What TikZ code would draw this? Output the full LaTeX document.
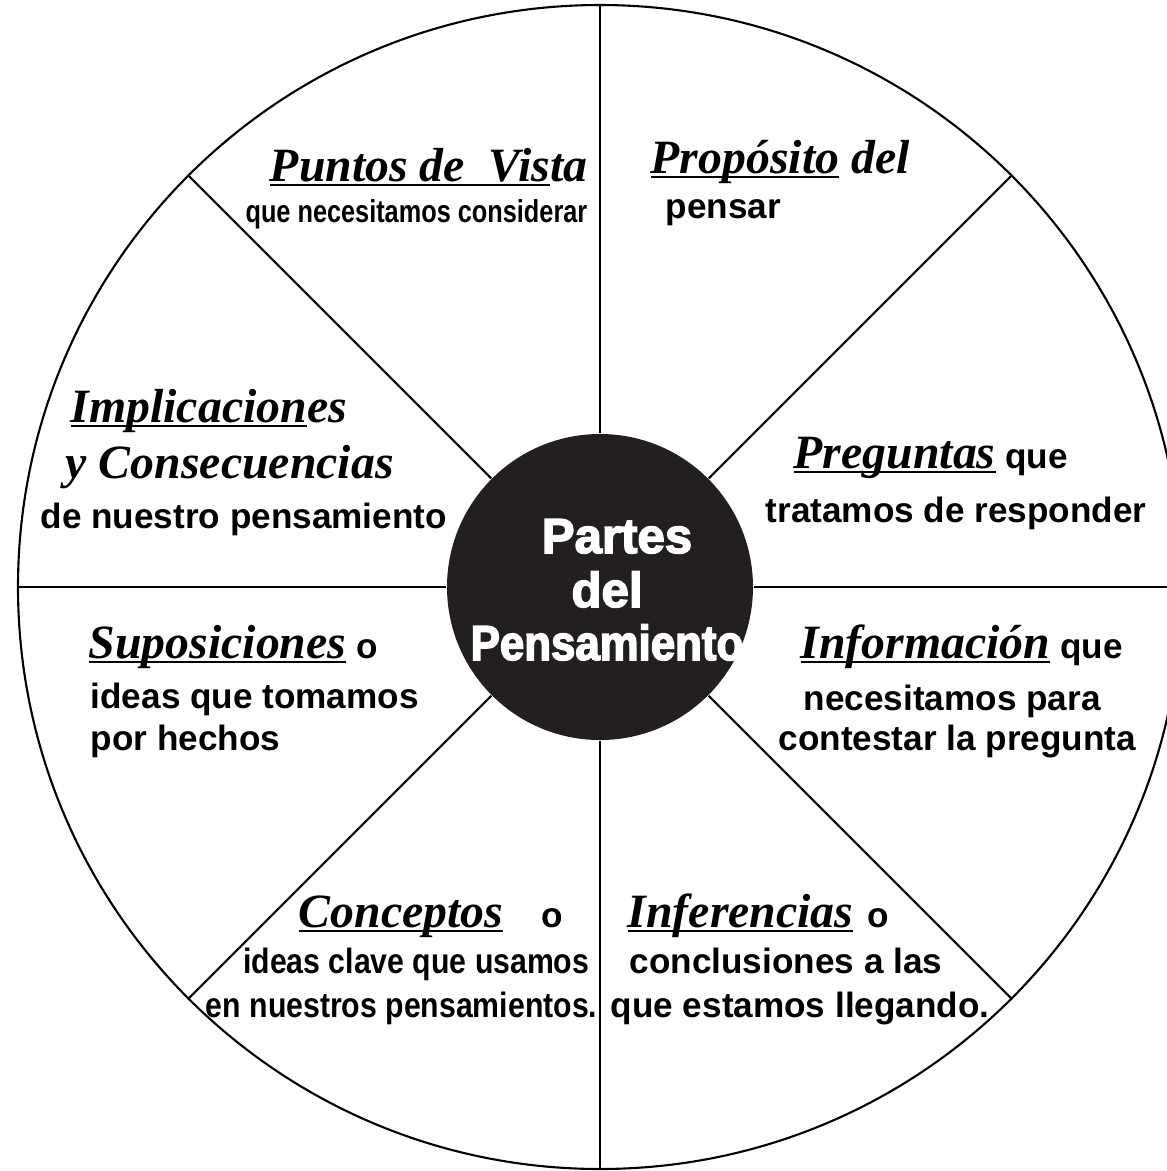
\documentclass[tikz,border=0pt]{standalone}
\usepackage{fontspec}
\setmainfont{Liberation Sans}
\newfontfamily\titlefont{Liberation Serif}
\newfontfamily\narrowfont{Liberation Sans}[FakeStretch=0.86]
\newfontfamily\tightfont{Liberation Sans}[FakeStretch=0.8]
\newfontfamily\hubfont{Liberation Sans Bold}[FakeBold=3]
\newfontfamily\hubnarrow{Liberation Sans Bold}[FakeBold=3,FakeStretch=0.89]
\definecolor{hubblack}{HTML}{231F20}
\newcommand\undr[1]{\sbox0{#1}\rlap{\rule[-1.5pt]{\wd0}{0.6pt}}\usebox0}
\newcommand\parttitle[1]{{\titlefont\bfseries\itshape\fontsize{13.6}{16}\selectfont #1}}
\begin{document}
\begin{tikzpicture}[
  rim/.style={line width=0.6pt},
  part/.style={inner sep=0pt, font=\bfseries\fontsize{10}{12}\selectfont},
  narrow/.style={inner sep=0pt, font=\narrowfont\bfseries\fontsize{10}{12}\selectfont},
  tight/.style={inner sep=0pt, font=\tightfont\bfseries\fontsize{9}{11}\selectfont},
  hubtext/.style={inner sep=0pt, text=white, font=\hubfont\fontsize{14}{16}\selectfont}
]
\useasboundingbox (0,0) rectangle (11.67,-11.71);

\node[draw, rim, circle, minimum size=11.64cm, inner sep=0pt] (outer) at (6.00,-5.87) {};
\node[circle, fill=hubblack, minimum size=3.06cm, inner sep=0pt] (hub) at (6.00,-5.87) {};
\coordinate (edge) at (11.67,-5.87);

\draw[rim] (outer.north) -- (hub.north);
\draw[rim] (hub.south) -- (outer.south);
\draw[rim] (outer.west) -- (hub.west);
\draw[rim] (hub.east) -- (edge);
\draw[rim] (hub.45) -- (outer.45);
\draw[rim] (hub.135) -- (outer.135);
\draw[rim] (hub.225) -- (outer.225);
\draw[rim] (hub.315) -- (outer.315);

\node[hubtext, anchor=base] (hubtop) at (6.17,-5.53) {Partes};
\node[hubtext, anchor=base] (hubmid) at (6.07,-6.07) {del};
\node[hubtext, anchor=base, font=\hubnarrow\fontsize{14}{16}\selectfont] (hubbot) at (6.07,-6.60) {Pensamiento};

\node[part, anchor=base east] (vista) at (5.88,-1.81) {\parttitle{\undr{Puntos de\ \ Vis}ta}};
\node[tight, anchor=base east] (vistanote) at (5.88,-2.22) {que necesitamos considerar};

\node[part, anchor=base west] (proposito) at (6.50,-1.73) {\parttitle{\undr{Propósito} del}};
\node[part, anchor=base west] (propositonote) at (6.65,-2.18) {pensar};

\node[part, anchor=base west] (implica) at (0.70,-4.22) {\parttitle{\undr{Implicacion}es}};
\node[part, anchor=base west] (consec) at (0.65,-4.78) {\parttitle{y Consecuencias}};
\node[part, anchor=base west] (implicanote) at (0.40,-5.28) {de nuestro pensamiento};

\node[part, anchor=base west] (preguntas) at (7.93,-4.68) {\parttitle{\undr{Preguntas}} que};
\node[part, anchor=base west] (preguntasnote) at (7.65,-5.22) {tratamos de responder};

\node[part, anchor=base west] (supos) at (0.88,-6.58) {\parttitle{\undr{Suposiciones}} o};
\node[part, anchor=base west] (suposnote1) at (0.90,-7.08) {ideas que tomamos};
\node[part, anchor=base west] (suposnote2) at (0.90,-7.50) {por hechos};

\node[part, anchor=base west] (info) at (8.00,-6.58) {\parttitle{\undr{Información}} que};
\node[part, anchor=base west] (infonote1) at (8.03,-7.10) {necesitamos para};
\node[part, anchor=base west] (infonote2) at (7.78,-7.50) {contestar la pregunta};

\node[part, anchor=base west] (conceptos) at (2.98,-9.27) {\parttitle{\undr{Conceptos}}\hspace{11pt}o};
\node[narrow, anchor=base east] (conceptosnote1) at (5.90,-9.73) {ideas clave que usamos};
\node[narrow, anchor=base east] (conceptosnote2) at (5.98,-10.17) {en nuestros pensamientos.};

\node[part, anchor=base west] (inferencias) at (6.27,-9.27) {\parttitle{\undr{Inferencias}}\hspace{4pt}o};
\node[part, anchor=base west] (inferenciasnote1) at (6.29,-9.73) {conclusiones a las};
\node[part, anchor=base west] (inferenciasnote2) at (6.10,-10.17) {que estamos llegando.};

\end{tikzpicture}
\end{document}
